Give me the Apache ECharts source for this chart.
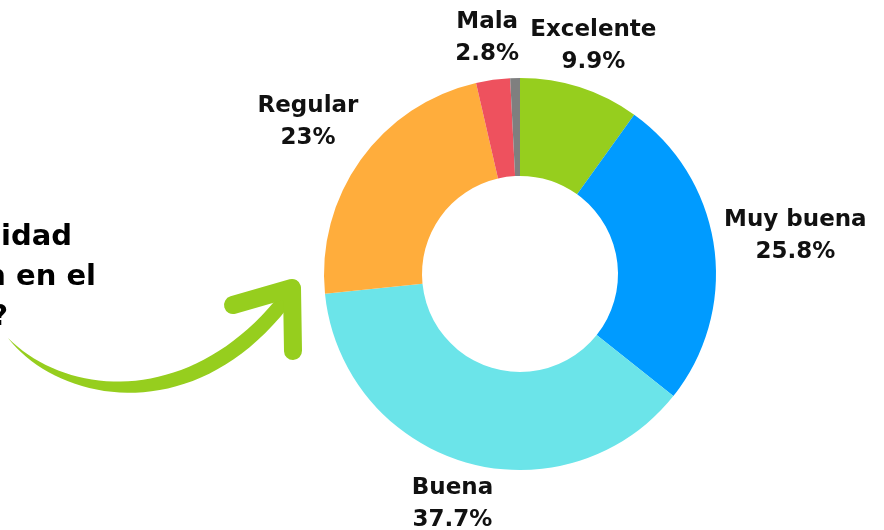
<!DOCTYPE html>
<html>
<head>
<meta charset="utf-8">
<script src="https://cdn.jsdelivr.net/npm/echarts@6/dist/echarts.min.js"></script>
<style>
html,body{margin:0;padding:0;background:#fff;}
#chart{width:884px;height:530px;}
</style>
</head>
<body>
<div id="chart"></div>
<script>
const categories = ['Excelente', 'Muy buena', 'Buena', 'Regular', 'Mala', 'Pésima'];
const values = [9.9, 25.8, 37.7, 23, 2.8, 0.8];
const colors = ['#96CE1E', '#009BFF', '#6BE4E9', '#FFAD3C', '#EE515E', '#7F7F7F'];
const showLabel = [true, true, true, true, true, false];
const titleLines = ['¿Cómo calificas la calidad', 'de la atención en el', 'servicio?'];

const FONT = '"DejaVu Sans", sans-serif';
const chart = echarts.init(document.getElementById('chart'), null, {renderer: 'canvas'});

const data = categories.map((c, i) => ({
  name: c,
  value: values[i],
  itemStyle: {color: colors[i]},
  label: {show: showLabel[i]}
}));

function layoutLabel(params) {
  const pts = params.labelLinePoints;
  if (!pts) return {};
  const a = pts[0], b = pts[1];
  const dx = b[0] - a[0], dy = b[1] - a[1];
  const len = Math.hypot(dx, dy) || 1;
  const ux = dx / len, uy = dy / len;
  const hw = params.labelRect.width / 2, hh = params.labelRect.height / 2;
  const t1 = Math.abs(ux) > 1e-6 ? hw / Math.abs(ux) : Infinity;
  const t2 = Math.abs(uy) > 1e-6 ? hh / Math.abs(uy) : Infinity;
  const t = Math.min(t1, t2);
  return {x: b[0] + ux * t, y: b[1] + uy * t, align: 'center', verticalAlign: 'middle'};
}

// decorative arrow shaft outline (cubic bezier sampled)
function bez(p0, p1, p2, p3, n) {
  const out = [];
  for (let i = 0; i <= n; i++) {
    const t = i / n, u = 1 - t;
    out.push([
      u*u*u*p0[0] + 3*u*u*t*p1[0] + 3*u*t*t*p2[0] + t*t*t*p3[0],
      u*u*u*p0[1] + 3*u*u*t*p1[1] + 3*u*t*t*p2[1] + t*t*t*p3[1]
    ]);
  }
  return out;
}
const shaft = bez([8, 338], [60, 405], [200, 430], [295, 298], 40)
  .concat(bez([282, 292], [195, 405], [70, 400], [8, 338], 40));

chart.setOption({
  backgroundColor: '#ffffff',
  animation: false,
  series: [{
    type: 'pie',
    center: [520, 274],
    radius: [98, 196],
    startAngle: 90,
    clockwise: true,
    avoidLabelOverlap: false,
    data: data,
    label: {
      position: 'outside',
      formatter: '{b}\n{c}%',
      fontFamily: FONT,
      fontSize: 23,
      fontWeight: 'bold',
      color: '#111111',
      lineHeight: 32,
      align: 'center'
    },
    labelLine: {show: false, length: 10, length2: 0},
    labelLayout: layoutLabel,
    emphasis: {disabled: true}
  }],
  graphic: [
    {
      type: 'polygon',
      shape: {points: shaft},
      style: {fill: '#96CE1E'}
    },
    {
      type: 'polyline',
      shape: {points: [[233, 305], [292, 288], [293, 351]]},
      style: {stroke: '#96CE1E', lineWidth: 18, lineCap: 'round', lineJoin: 'round', fill: null}
    },
    {
      type: 'text',
      style: {text: titleLines[0], x: 72, y: 237, textAlign: 'right', textVerticalAlign: 'middle',
        fontFamily: FONT, fontSize: 29, fontWeight: 'bold', fill: '#000'}
    },
    {
      type: 'text',
      style: {text: titleLines[1], x: 96, y: 277, textAlign: 'right', textVerticalAlign: 'middle',
        fontFamily: FONT, fontSize: 29, fontWeight: 'bold', fill: '#000'}
    },
    {
      type: 'text',
      style: {text: titleLines[2], x: 8, y: 317, textAlign: 'right', textVerticalAlign: 'middle',
        fontFamily: FONT, fontSize: 29, fontWeight: 'bold', fill: '#000'}
    }
  ]
});
</script>
</body>
</html>
